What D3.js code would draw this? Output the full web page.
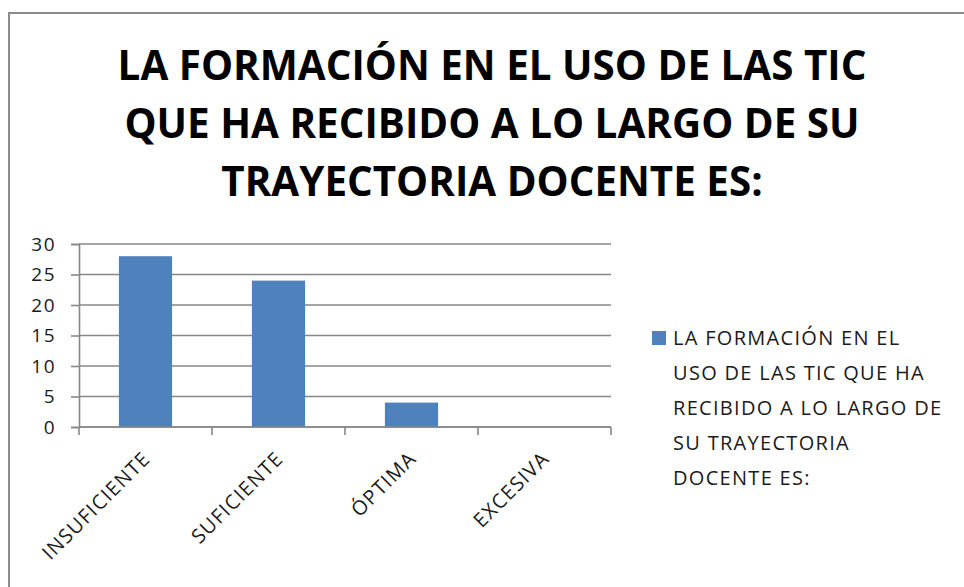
<!DOCTYPE html>
<html><head><meta charset="utf-8">
<script src="https://cdn.jsdelivr.net/npm/d3@7"></script>
<style>
html,body{margin:0;padding:0;background:#fff;}
svg{display:block;}
</style></head>
<body>
<svg id="chart" width="964" height="587"></svg>
<script>
const categories = ["INSUFICIENTE", "SUFICIENTE", "ÓPTIMA", "EXCESIVA"];
const values = [28, 24, 4, 0];
const yTicks = [0, 5, 10, 15, 20, 25, 30];
const titleLines = ["LA FORMACIÓN EN EL USO DE LAS TIC", "QUE HA RECIBIDO A LO LARGO DE SU", "TRAYECTORIA DOCENTE ES:"];
const legendLines = ["LA FORMACIÓN EN EL", "USO DE LAS TIC QUE HA", "RECIBIDO A LO LARGO DE", "SU TRAYECTORIA", "DOCENTE ES:"];

const svg = d3.select("#chart");
const font = "'Open Sans', 'Noto Sans', sans-serif";
const barColor = "#4F81BD";
const gridColor = "#878787";
const textColor = "#1a1a1a";

// outer border
svg.append("rect").attr("x", 9).attr("y", 13).attr("width", 1000).attr("height", 700)
  .attr("fill", "none").attr("stroke", "#8c8c8c").attr("stroke-width", 2);

// title
const titleG = svg.append("g");
const titleT = titleG.selectAll("text").data(titleLines).join("text")
  .attr("x", 0).attr("y", (d, i) => 80 + i * 58)
  .attr("text-anchor", "middle")
  .attr("font-family", font).attr("font-weight", "bold").attr("font-size", 41)
  .attr("fill", "#000").text(d => d);
const w0 = titleT.nodes()[0].getComputedTextLength();
const sx = 749 / w0;
titleG.attr("transform", `translate(492,0) scale(${sx},1)`);

// scales
const plotL = 79, plotR = 611, plotT = 244, plotB = 427;
const y = d3.scaleLinear().domain([0, 30]).range([plotB, plotT]);
const xBand = d3.scaleBand().domain(categories).range([plotL, plotR]).paddingInner(0.6).paddingOuter(0.3);
const xCat = d3.scaleBand().domain(categories).range([plotL, plotR]).padding(0);

// gridlines
svg.append("g").selectAll("line").data(yTicks).join("line")
  .attr("x1", plotL).attr("x2", plotR)
  .attr("y1", d => y(d)).attr("y2", d => y(d))
  .attr("stroke", gridColor).attr("stroke-width", 1.6);

// bars
svg.append("g").selectAll("rect").data(values).join("rect")
  .attr("x", (d, i) => xBand(categories[i]))
  .attr("width", xBand.bandwidth())
  .attr("y", d => y(d))
  .attr("height", d => plotB - y(d))
  .attr("fill", barColor);

// y axis
const yAxis = svg.append("g").attr("transform", `translate(${plotL},0)`)
  .call(d3.axisLeft(y).tickValues(yTicks).tickSize(8).tickPadding(6).tickFormat(d3.format("d")));
yAxis.select(".domain").attr("stroke", gridColor).attr("stroke-width", 1.6);
yAxis.selectAll(".tick line").attr("stroke", gridColor).attr("stroke-width", 1.6);
yAxis.selectAll(".tick text").attr("font-family", font).attr("font-size", 19)
  .attr("letter-spacing", "1.5px").attr("fill", textColor)
  .attr("x", -23).attr("dy", "0.34em");

// x axis baseline + boundary ticks
const bounds = categories.map(c => xCat(c)).concat([plotR]);
svg.append("line").attr("x1", plotL).attr("x2", plotR).attr("y1", plotB).attr("y2", plotB)
  .attr("stroke", gridColor).attr("stroke-width", 1.6);
svg.append("g").selectAll("line").data(bounds).join("line")
  .attr("x1", d => d).attr("x2", d => d).attr("y1", plotB).attr("y2", plotB + 8)
  .attr("stroke", gridColor).attr("stroke-width", 1.6);

// x labels
svg.append("g").selectAll("text").data(categories).join("text")
  .attr("transform", d => `translate(${xCat(d) + xCat.bandwidth() / 2 + 6},${plotB + 33}) rotate(-45)`)
  .attr("text-anchor", "end")
  .attr("font-family", font).attr("font-size", 20).attr("letter-spacing", "1.2px").attr("fill", textColor)
  .text(d => d);

// legend
const lg = svg.append("g");
lg.append("rect").attr("x", 652).attr("y", 331).attr("width", 14).attr("height", 14).attr("fill", barColor);
lg.selectAll("text").data(legendLines).join("text")
  .attr("x", 673).attr("y", (d, i) => 345 + i * 35)
  .attr("font-family", font).attr("font-size", 20).attr("letter-spacing", "1.3px").attr("fill", textColor)
  .text(d => d);
</script>
</body></html>
